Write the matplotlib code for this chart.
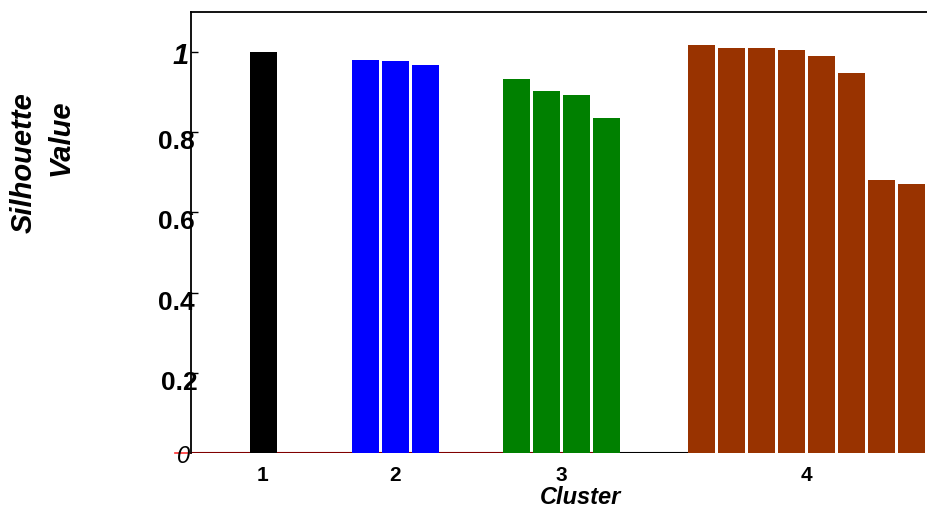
import matplotlib
matplotlib.use("Agg")
import matplotlib.pyplot as plt
import matplotlib.transforms as mtransforms
import numpy as np

plt.rcParams['font.family'] = ['Liberation Sans', 'DejaVu Sans']

# ---- data ----
cluster_names = ['1', '2', '3', '4']
cluster_values = [
    [1.000],
    [0.980, 0.978, 0.968],
    [0.932, 0.903, 0.893, 0.835],
    [1.017, 1.010, 1.009, 1.005, 0.990, 0.949, 0.681, 0.671],
]
cluster_colors = ['#000000', '#0000FF', '#008000', '#993300']
ytick_vals = [0, 0.2, 0.4, 0.6, 0.8, 1]
ytick_text = ['0', '0.2', '0.4', '0.6', '0.8', '1']

# ---- layout ----
first_offset = 2.4
gaps = [3.4, 3.05, 3.15]
bar_w = 0.9

fig = plt.figure(figsize=(9.27, 5.11), dpi=100)
ax = fig.add_axes([191/927, 1-453/511, (927-191)/927, 441/511])

starts = [first_offset]
for i, g in enumerate(gaps):
    starts.append(starts[-1] + len(cluster_values[i]) - 1 + g)

centers = []
ends = []
for vals, s, c in zip(cluster_values, starts, cluster_colors):
    x = s + np.arange(len(vals))
    ax.bar(x, vals, width=bar_w, color=c, edgecolor='none', zorder=3)
    centers.append(x.mean())
    ends.append(x[-1] + bar_w/2)

# baseline segments
ax.plot([0, ends[2]], [0, 0], color='#800000', lw=1.5, zorder=2, solid_capstyle='butt')
ax.plot([ends[2], starts[3] - bar_w/2], [0, 0], color='black', lw=1.5, zorder=2, solid_capstyle='butt')
ax.plot([-0.53, 0], [0, 0], color='#ff3030', lw=1.2, zorder=2, clip_on=False)

ax.set_xlim(0, (927-191)/30)
ax.set_ylim(0, 1.1)

for sp in ['right', 'bottom']:
    ax.spines[sp].set_visible(False)
for sp in ['left', 'top']:
    ax.spines[sp].set_linewidth(1.3)

# y ticks (marks only), labels drawn as text for per-label placement
ax.set_yticks(ytick_vals)
ax.set_yticklabels([])
ax.tick_params(axis='y', direction='in', length=5, width=1)
ax.yaxis.get_major_ticks()[0].tick1line.set_visible(False)

base = mtransforms.blended_transform_factory(ax.transAxes, ax.transData)
for v, t in zip(ytick_vals, ytick_text):
    if v == 0:
        tr = mtransforms.offset_copy(base, fig=fig, x=-1, y=-3, units='dots')
        ax.text(0, v, t, transform=tr, fontsize=17, fontstyle='italic',
                ha='right', va='center', clip_on=False)
    elif v == 1:
        tr = mtransforms.offset_copy(base, fig=fig, x=-2, y=-4, units='dots')
        ax.text(0, v, t, transform=tr, fontsize=21, fontstyle='italic',
                fontweight='bold', ha='right', va='center', clip_on=False)
    else:
        dx = 7 if v == 0.2 else 4
        tr = mtransforms.offset_copy(base, fig=fig, x=dx, y=2, units='dots')
        ax.text(0, v, t, transform=tr, fontsize=19, fontweight='bold',
                ha='right', va='top', clip_on=False)

ax.set_xticks(centers)
ax.set_xticklabels(cluster_names, fontsize=15, fontweight='bold')
ax.tick_params(axis='x', length=0, pad=9)

fig.text(581/927, 1-497/511, 'Cluster', fontsize=17, fontweight='bold',
         fontstyle='italic', ha='center', va='center')
fig.text(24/927, 1-163/511, 'Silhouette', fontsize=21, fontweight='bold',
         fontstyle='italic', ha='center', va='center', rotation=90)
fig.text(61/927, 1-138/511, 'Value', fontsize=21, fontweight='bold',
         fontstyle='italic', ha='center', va='center', rotation=90)

fig.savefig('out.png', dpi=100)
